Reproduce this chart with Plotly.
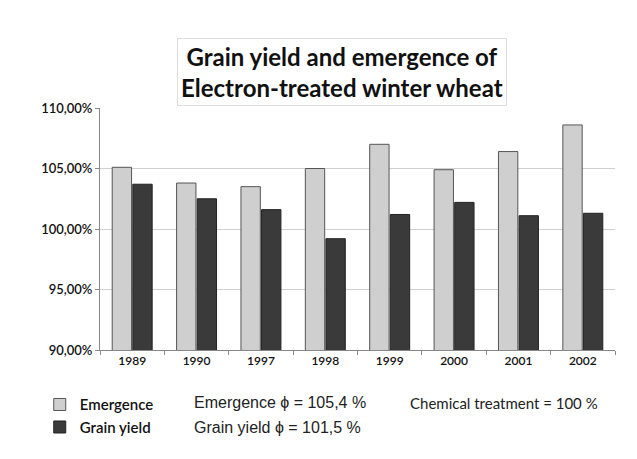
import plotly.graph_objects as go

years = ["1989", "1990", "1997", "1998", "1999", "2000", "2001", "2002"]
emergence = [105.1, 103.8, 103.5, 105.0, 107.0, 104.9, 106.4, 108.6]
grain_yield = [103.7, 102.5, 101.6, 99.2, 101.2, 102.2, 101.1, 101.3]
y_ticks = [90, 95, 100, 105, 110]
y_tick_labels = ["90,00%", "95,00%", "100,00%", "105,00%", "110,00%"]

fig = go.Figure()
fig.add_trace(go.Bar(x=years, y=emergence, name="Emergence",
                     marker=dict(color="#cfcfcf", line=dict(color="#555555", width=1))))
fig.add_trace(go.Bar(x=years, y=grain_yield, name="Grain yield",
                     marker=dict(color="#3a3a3a", line=dict(color="#222222", width=1))))

fig.update_layout(
    width=637, height=459,
    margin=dict(l=92, r=30, t=100, b=117),
    paper_bgcolor="white", plot_bgcolor="white",
    barmode="group", bargap=0.36, bargroupgap=0.06,
    font=dict(family="Lato, Open Sans, sans-serif", color="#222222"),
    showlegend=True,
    legend=dict(x=-0.117, y=-0.158, xanchor="left", yanchor="top",
                orientation="v", font=dict(size=15, family="Lato, sans-serif", color="#111", weight=600),
                itemwidth=30, tracegroupgap=0),
    xaxis=dict(type="category", showline=True, linecolor="#888", ticks="outside",
               tickson="boundaries", ticklen=4, tickcolor="#888",
               tickfont=dict(size=12, family="Lato, sans-serif", color="#111", weight=600)),
    yaxis=dict(range=[90, 110], tickvals=y_ticks, ticktext=y_tick_labels,
               showline=True, linecolor="#888", ticks="outside", ticklen=4, tickcolor="#888",
               showgrid=True, gridcolor="#d0d0d0",
               tickfont=dict(size=13, family="Lato, sans-serif", color="#111", weight=600)),
)

fig.add_annotation(xref="paper", yref="paper", x=0.47, y=1.01, yanchor="bottom",
                   text="<b>Grain yield and emergence of<br>Electron-treated winter wheat</b>",
                   showarrow=False, font=dict(size=24, family="Lato, sans-serif", color="#111"),
                   bordercolor="#dddddd", borderwidth=1, borderpad=3, bgcolor="white")

fig.add_annotation(xref="paper", yref="paper", x=0.179, y=-0.219, xanchor="left", yanchor="middle",
                   text="Emergence ϕ = 105,4 %", showarrow=False,
                   font=dict(size=16, family="Liberation Sans, Arial, sans-serif", color="#222"))
fig.add_annotation(xref="paper", yref="paper", x=0.179, y=-0.322, xanchor="left", yanchor="middle",
                   text="Grain yield ϕ = 101,5 %", showarrow=False,
                   font=dict(size=16, family="Liberation Sans, Arial, sans-serif", color="#222"))
fig.add_annotation(xref="paper", yref="paper", x=0.598, y=-0.219, xanchor="left", yanchor="middle",
                   text="Chemical treatment = 100 %", showarrow=False,
                   font=dict(size=15, family="Lato, sans-serif", color="#222"))

fig.write_html("out.html")
